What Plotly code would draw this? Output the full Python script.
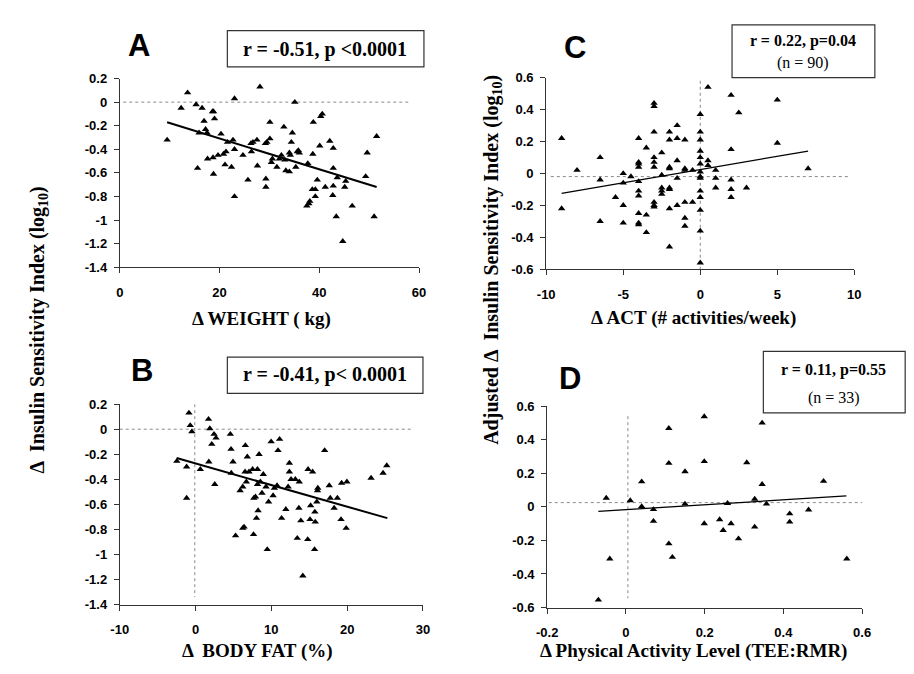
import plotly.graph_objects as go

# ---------------- data ----------------
A_x = [9.5,12.3,13.6,15.3,15.6,15.9,16.5,16.9,17.2,17.5,17.6,18.6,18.8,19.0,18.7,18.8,19.7,20.3,20.8,21.3,
       21.1,21.6,22.4,22.7,23.0,23.0,23.0,24.7,25.7,26.3,26.4,26.7,27.5,27.6,28.1,29.2,29.3,29.3,29.5,30.1,
       30.1,30.4,30.6,31.5,32.0,32.4,32.9,33.1,33.3,34.0,34.0,34.2,34.4,34.6,35.1,35.3,35.6,35.8,36.0,37.7,
       37.5,37.9,38.1,38.7,38.8,38.6,39.2,39.2,39.6,40.1,40.3,40.6,41.2,42.1,42.8,42.8,42.8,42.7,43.4,43.6,
       44.7,45.1,45.3,46.6,49.3,49.6,51.0,51.5]
A_y = [-0.32,-0.05,0.08,-0.02,-0.56,-0.26,-0.05,-0.16,-0.23,-0.26,-0.48,-0.08,-0.08,-0.14,-0.47,-0.61,-0.45,-0.27,-0.44,-0.42,
       -0.53,-0.34,-0.55,-0.32,-0.40,0.03,-0.80,-0.45,-0.66,-0.35,-0.42,-0.34,-0.32,-0.54,0.13,-0.35,-0.65,-0.72,-0.34,-0.17,
       -0.31,-0.51,-0.48,-0.55,-0.48,-0.45,-0.21,-0.49,-0.58,-0.59,-0.43,-0.45,-0.34,-0.26,0.0,-0.55,-0.42,-0.41,-0.43,-0.52,
       -0.88,-0.86,-0.84,-0.44,-0.17,-0.74,-0.74,-0.80,-0.66,-0.37,-0.12,-0.10,-0.72,-0.33,-0.39,-0.56,-0.71,-0.79,-0.97,-0.64,
       -1.18,-0.72,-0.67,-0.88,-0.63,-0.43,-0.97,-0.29]

B_x = [-2.47,-1.18,-1.18,-0.87,-0.70,-0.49,0.63,1.71,1.88,1.75,2.14,2.44,2.70,2.53,4.59,4.68,4.72,4.94,5.28,5.88,
       6.23,6.23,6.40,6.57,6.53,6.70,6.83,7.05,7.52,7.65,7.69,7.91,8.04,8.17,8.17,8.25,8.38,8.55,8.77,8.94,
       9.29,9.46,9.63,9.97,10.23,10.40,10.75,10.88,11.09,11.35,11.91,12.21,12.38,12.38,12.60,13.16,13.42,13.63,13.68,13.89,
       14.15,14.80,14.84,15.18,15.44,15.10,15.70,15.74,15.79,16.00,16.13,16.09,17.03,17.64,17.77,18.28,18.71,19.19,19.27,19.87,
       19.96,23.15,24.74,25.22]
B_y = [-0.255,-0.30,-0.55,0.13,0.03,-0.02,-0.32,0.08,0.005,-0.26,-0.12,-0.04,-0.07,-0.44,-0.04,-0.16,-0.35,-0.26,-0.85,-0.49,
       -0.46,-0.79,-0.78,-0.13,-0.34,-0.42,-0.22,-0.34,-0.32,-0.84,-0.55,-0.54,-0.71,-0.32,-0.44,-0.65,-0.20,-0.42,-0.51,-0.36,
       -0.46,-0.96,-0.58,-0.10,-0.53,-0.47,-0.45,-0.17,-0.08,-0.71,-0.64,-0.46,-0.27,-0.34,-0.40,-0.40,-0.87,-0.63,-0.42,-0.73,
       -1.17,-0.88,-0.32,-0.61,-0.34,-0.72,-0.96,-0.66,-0.74,-0.58,-0.47,-0.49,-0.17,-0.45,-0.55,-0.63,-0.55,-0.72,-0.43,-0.79,
       -0.42,-0.39,-0.35,-0.29]

C_x = [-9,-9,-8,-6.5,-6.5,-6.5,-5.5,-5,-5,-5,-5,-4.5,-4,-4,-4,-4,-4,-4,-4,-4,
       -4,-4,-3.5,-3.5,-3.5,-3,-3,-3,-3,-3,-3,-3,-3,-3,-2.5,-2.5,-2.5,-2.5,-2.5,-2,
       -2,-2,-2,-2,-2,-2,-2,-1.5,-1.5,-1.5,-1.5,-1.5,-1,-1,-1,-1,-1,-1,-0.5,-0.5,
       0,0,0,0,0,0,0,0,0,0,0,0,0,0.5,0.5,0.5,1,1,1,2,
       2,2,2,2,2.5,3,5,5,7,0]
C_y = [0.22,-0.22,0.02,0.10,-0.04,-0.30,-0.15,0.00,-0.06,-0.20,-0.31,-0.02,0.22,0.07,0.06,0.04,-0.05,-0.11,-0.14,-0.25,
       -0.31,-0.32,0.16,-0.26,-0.37,0.44,0.42,0.26,0.10,0.07,0.04,-0.18,-0.20,-0.21,0.13,-0.01,-0.09,-0.11,-0.13,0.26,
       0.21,0.04,0.03,-0.09,-0.10,-0.22,-0.46,0.30,0.22,0.08,-0.03,-0.20,0.21,0.03,0.02,-0.18,-0.28,-0.33,0.02,-0.18,
       0.37,0.26,0.21,0.14,0.10,0.06,0.01,-0.02,-0.11,-0.15,-0.23,-0.36,-0.56,0.54,0.08,0.05,0.02,-0.03,-0.09,0.49,
       0.15,-0.04,-0.10,-0.15,0.38,-0.09,0.46,0.19,0.03,-0.03]

D_x = [-0.070,-0.050,-0.041,0.011,0.040,0.040,0.070,0.070,0.109,0.109,0.109,0.118,0.150,0.150,0.199,0.199,0.199,
       0.238,0.247,0.258,0.267,0.286,0.307,0.327,0.327,0.346,0.346,0.357,0.416,0.416,0.464,0.502,0.561]
D_y = [-0.555,0.052,-0.31,0.037,0.15,0.002,-0.016,-0.086,0.468,0.26,-0.22,-0.30,0.21,0.017,0.538,0.27,-0.10,
       -0.076,-0.14,0.021,-0.10,-0.19,0.264,0.046,-0.12,0.50,0.134,0.017,-0.041,-0.09,-0.018,0.153,-0.31]

# regression-line end points
A_fit_x, A_fit_y = [9.5, 51.5], [-0.17, -0.72]
B_fit_x, B_fit_y = [-2.5, 25.3], [-0.23, -0.71]
C_fit_x, C_fit_y = [-9, 7], [-0.125, 0.14]
D_fit_x, D_fit_y = [-0.07, 0.56], [-0.027, 0.065]

# dotted reference lines (horizontal then vertical)
A_ref_h = ([0.7, 58.4], [0, 0])
B_ref_h = ([-10, 28.4], [0, 0]); B_ref_v = ([-0.1, -0.1], [0.2, -1.34])
C_ref_h = ([-9.7, 9.7], [-0.02, -0.02]); C_ref_v = ([0, 0], [0.58, -0.6])
D_ref_h = ([-0.196, 0.648], [0.025, 0.025]); D_ref_v = ([0.005, 0.005], [0.54, -0.545])

AB_yticks = [0.2, 0, -0.2, -0.4, -0.6, -0.8, -1, -1.2, -1.4]
CD_yticks = [0.6, 0.4, 0.2, 0, -0.2, -0.4, -0.6]
A_xticks = [0, 20, 40, 60]
B_xticks = [-10, 0, 10, 20, 30]
C_xticks = [-10, -5, 0, 5, 10]
D_xticks = [-0.2, 0, 0.2, 0.4, 0.6]

def lab(v):
    s = f"{v:g}"
    return "0" if s == "-0" else s

W, H = 914, 674
def px(x): return x / W
def py(y): return 1 - y / H

fig = go.Figure()

panels = [
    ("", A_x, A_y, A_fit_x, A_fit_y, [A_ref_h], 2.0),
    ("2", B_x, B_y, B_fit_x, B_fit_y, [B_ref_h, B_ref_v], 2.0),
    ("3", C_x, C_y, C_fit_x, C_fit_y, [C_ref_h, C_ref_v], 1.3),
    ("4", D_x, D_y, D_fit_x, D_fit_y, [D_ref_h, D_ref_v], 1.3),
]
for sfx, xs, ys, fx, fy, refs, lw in panels:
    xa, ya = "x" + sfx, "y" + sfx
    for rx, ry in refs:
        fig.add_trace(go.Scatter(x=rx, y=ry, mode="lines", xaxis=xa, yaxis=ya,
                                 line=dict(color="#8a8a8a", width=1, dash="dot"),
                                 hoverinfo="skip", showlegend=False))
    fig.add_trace(go.Scatter(x=xs, y=ys, mode="markers", xaxis=xa, yaxis=ya,
                             marker=dict(symbol="triangle-up", size=6.5, color="black"),
                             showlegend=False))
    fig.add_trace(go.Scatter(x=fx, y=fy, mode="lines", xaxis=xa, yaxis=ya,
                             line=dict(color="black", width=lw), showlegend=False))

tickfont = dict(family="Liberation Sans, Arial", size=13, color="black", weight="bold")
common = dict(showgrid=False, zeroline=False, showline=True, linecolor="#333", linewidth=1,
              ticks="outside", ticklen=5, tickcolor="#333", tickfont=tickfont, fixedrange=True)

def xaxis(rng, ticks, dom, anchor):
    return dict(range=rng, domain=dom, anchor=anchor, tickmode="array", tickvals=ticks,
                ticktext=[lab(t) for t in ticks], ticklabelstandoff=8, **common)

def yaxis(rng, ticks, dom, anchor):
    return dict(range=rng, domain=dom, anchor=anchor, tickmode="array", tickvals=ticks,
                ticktext=[lab(t) for t in ticks], ticklabelstandoff=4, **common)

fig.update_layout(
    width=W, height=H, margin=dict(l=0, r=0, t=0, b=0),
    paper_bgcolor="white", plot_bgcolor="white", showlegend=False,
    xaxis=xaxis([0, 60], A_xticks, [px(103), px(409)], "y"),
    yaxis=yaxis([-1.4, 0.2], AB_yticks, [py(258), py(65)], "x"),
    xaxis2=xaxis([-10, 30], B_xticks, [px(103), px(413)], "y2"),
    yaxis2=yaxis([-1.4, 0.2], AB_yticks, [py(603), py(398)], "x2"),
    xaxis3=xaxis([-10, 10], C_xticks, [px(539), px(854)], "y3"),
    yaxis3=yaxis([-0.6, 0.6], CD_yticks, [py(260), py(64)], "x3"),
    xaxis4=xaxis([-0.2, 0.6], D_xticks, [px(540), px(862)], "y4"),
    yaxis4=yaxis([-0.6, 0.6], CD_yticks, [py(606), py(400)], "x4"),
)

serif = "Liberation Serif, Times New Roman"
sans = "Liberation Sans, Arial"
def ann(text, x, y, size, family=serif, angle=0, color="black", **kw):
    fig.add_annotation(text=text, x=px(x), y=py(y), xref="paper", yref="paper",
                       showarrow=False, textangle=angle, xanchor="center", yanchor="middle",
                       font=dict(family=family, size=size, color=color), **kw)

# panel letters
ann("<b>A</b>", 123, 31, 31, sans)
ann("<b>B</b>", 126, 364, 31, sans)
ann("<b>C</b>", 568, 33, 31, sans)
ann("<b>D</b>", 563, 372, 31, sans)

# stat boxes
def box(x0, y0, x1, y1):
    fig.add_shape(type="rect", xref="paper", yref="paper", x0=px(x0), x1=px(x1), y0=py(y1), y1=py(y0),
                  line=dict(color="#333", width=1.2), fillcolor="white")
box(213, 16, 414, 53)
ann("<b>r = -0.51, p &lt;0.0001</b>", 313, 35, 20)
box(213, 350, 413, 387)
ann("<b>r = -0.41, p&lt; 0.0001</b>", 313, 368, 20)
box(729, 10, 875, 64)
ann("<b>r = 0.22, p=0.04</b>", 802, 27, 16)
ann("(n = 90)", 802, 49, 16)
box(761, 344, 906, 407)
ann("<b>r = 0.11, p=0.55</b>", 833, 363, 16)
ann("(n = 33)", 833, 392, 16)

# axis titles
ann("<b>Δ WEIGHT ( kg)</b>", 248, 311, 19)
ann("<b>Δ  BODY FAT (%)</b>", 244, 650, 19)
ann("<b>Δ ACT (# activities/week)</b>", 690, 310, 19)
ann("<b>Δ Physical Activity Level (TEE:RMR)</b>", 690, 650, 19)
ann("<b>Δ  Insulin Sensitivity Index (log<sub>10</sub>)</b>", 20, 322, 20, angle=-90)
ann("<b>Adjusted Δ  Insulin Sensitivity Index (log<sub>10</sub>)</b>", 484, 250, 20, angle=-90)

fig.write_html("out.html")
